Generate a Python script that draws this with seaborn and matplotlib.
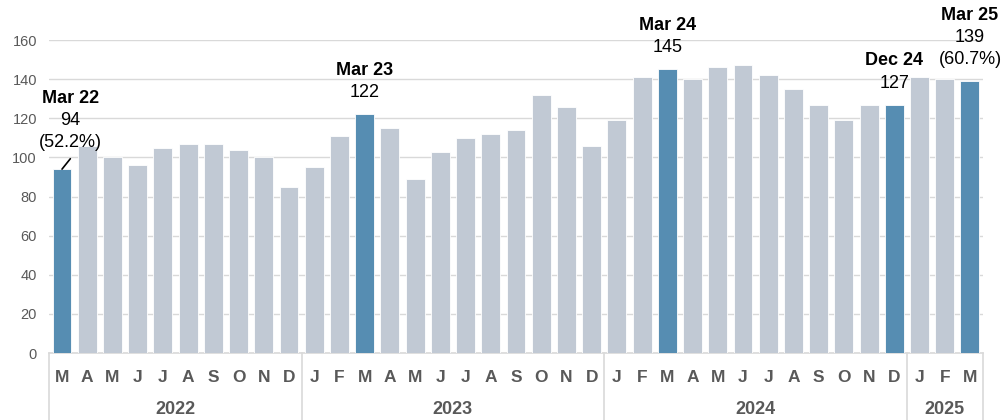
import numpy as np
import pandas as pd
import matplotlib
matplotlib.use("Agg")
import matplotlib.pyplot as plt
import seaborn as sns

# monthly values, Mar 2022 - Mar 2025
values = [94, 106, 100, 96, 105, 107, 107, 104, 100, 85,
          95, 111, 122, 115, 89, 103, 110, 112, 114, 132, 126, 106,
          119, 141, 145, 140, 146, 147, 142, 135, 127, 119, 127, 127,
          141, 140, 139]
months = ["M", "A", "M", "J", "J", "A", "S", "O", "N", "D",
          "J", "F", "M", "A", "M", "J", "J", "A", "S", "O", "N", "D",
          "J", "F", "M", "A", "M", "J", "J", "A", "S", "O", "N", "D",
          "J", "F", "M"]
years = ["2022", "2023", "2024", "2025"]
year_counts = [10, 12, 12, 3]

# highlighted bars
hl_idx = [0, 12, 24, 33, 36]
hl_title = ["Mar 22", "Mar 23", "Mar 24", "Dec 24", "Mar 25"]
hl_share = ["(52.2%)", None, None, None, "(60.7%)"]

BLUE = "#568DB2"
GREY = "#C1C9D4"
LINE = "#D9D9D9"
TXT = "#595959"

df = pd.DataFrame({"pos": np.arange(len(values)), "value": values})
df["kind"] = np.where(df["pos"].isin(hl_idx), "hl", "base")

sns.set_style("white")
plt.rcParams["font.family"] = ["Liberation Sans", "DejaVu Sans"]

fig = plt.figure(figsize=(10.02, 4.2), dpi=100)
ax = fig.add_axes([0.0493, 0.1595, 0.9313, 0.7452])

sns.barplot(data=df, x="pos", y="value", hue="kind", dodge=False,
            palette={"hl": BLUE, "base": GREY}, saturation=1, width=0.75,
            legend=False, edgecolor="white", linewidth=0.6, ax=ax, zorder=3)

ax.set_xlim(-0.5, len(values) - 0.5)
ax.set_ylim(0, 160)
ax.set_yticks(range(0, 161, 20))
ax.yaxis.grid(True, color=LINE, linewidth=1, zorder=0)
ax.set_axisbelow(True)
for s in ["top", "right", "left"]:
    ax.spines[s].set_visible(False)
ax.spines["bottom"].set_color(LINE)
ax.spines["bottom"].set_linewidth(1.2)
ax.tick_params(axis="y", length=0, pad=9, labelsize=10.5, labelcolor=TXT)
ax.set_xticks(range(len(values)))
ax.set_xticklabels(months, fontweight="bold", fontsize=12.5, color=TXT)
ax.tick_params(axis="x", length=0, pad=12)
ax.set_xlabel("")
ax.set_ylabel("")

# year separators and labels
trans = ax.get_xaxis_transform()
edges = np.concatenate([[0], np.cumsum(year_counts)]) - 0.5
for e in edges:
    ax.plot([e, e], [0, -0.25], color=LINE, lw=1.2, transform=trans, clip_on=False)
for i, y in enumerate(years):
    ax.text((edges[i] + edges[i + 1]) / 2, -0.181, y, transform=trans,
            ha="center", va="center", fontsize=13, fontweight="bold", color=TXT)

# annotations on highlighted bars
for idx, title, share in zip(hl_idx, hl_title, hl_share):
    v = values[idx]
    lines = [title, str(v)] + ([share] if share else [])
    dx = 6 if idx == 0 else 0
    base = 19 if idx == 0 else 15.5
    for k, txt in enumerate(reversed(lines)):
        bold = txt == title
        ax.annotate(txt, xy=(idx, v), xytext=(dx, base + 16 * k),
                    textcoords="offset points", ha="center", va="center",
                    fontsize=13, fontweight="bold" if bold else "normal",
                    color="black", annotation_clip=False)

# small leader line on the first bar
ax.annotate("", xy=(0, values[0]), xytext=(6, 7.5), textcoords="offset points",
            arrowprops=dict(arrowstyle="-", color="black", lw=1.2,
                            shrinkA=0, shrinkB=0))

fig.savefig("out.png", dpi=100)
